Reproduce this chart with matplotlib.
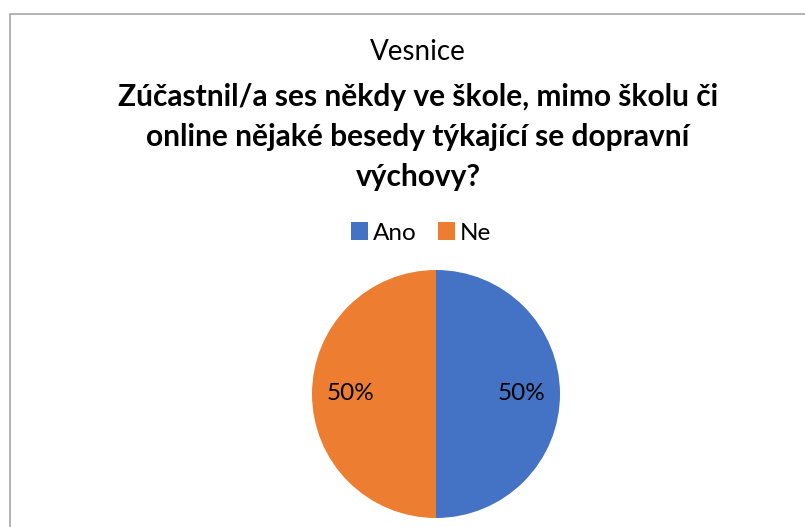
import matplotlib
matplotlib.use("Agg")
import matplotlib.pyplot as plt
from matplotlib.patches import Rectangle, Patch

labels = ["Ano", "Ne"]
shares = [50, 50]
colors = ["#4472C4", "#ED7D31"]

W, H = 805, 527
fig = plt.figure(figsize=(W / 100, H / 100), dpi=100)
plt.rcParams["font.family"] = ["Lato", "DejaVu Sans"]

# chart frame (runs off the right and bottom edges)
fig.patches.append(Rectangle((9.5 / W, -0.1), 1.0, 1 - 13.5 / H + 0.1,
                             transform=fig.transFigure, fill=False,
                             edgecolor="#A6A6A6", linewidth=1.2))

tx = 418 / W
fig.text(tx, 1 - 52 / H, "Vesnice", ha="center", va="center", fontsize=20)
title = ["Zúčastnil/a ses někdy ve škole, mimo školu či",
         "online nějaké besedy týkající se dopravní",
         "výchovy?"]
for i, line in enumerate(title):
    fig.text(tx, 1 - (97 + 40 * i) / H, line, ha="center", va="center",
             fontsize=21.5, fontweight="bold")

cx, cy, r = 436, 394, 124
ax = fig.add_axes([(cx - r) / W, 1 - (cy + r) / H, 2 * r / W, 2 * r / H])
ax.pie(shares, colors=colors, startangle=90, counterclock=False,
       autopct="%d%%", pctdistance=0.69,
       textprops={"fontsize": 17.5, "color": "#000000"})
ax.set_xlim(-1, 1)
ax.set_ylim(-1, 1)
ax.set_aspect("equal")

handles = [Patch(facecolor=c, label=l) for c, l in zip(colors, labels)]
fig.legend(handles=handles, loc="center", bbox_to_anchor=(421 / W, 1 - 233 / H),
           ncol=2, frameon=False, fontsize=17.5, handlelength=0.7,
           handleheight=0.7, handletextpad=0.2, columnspacing=0.9)

fig.savefig("out.png", dpi=100)
